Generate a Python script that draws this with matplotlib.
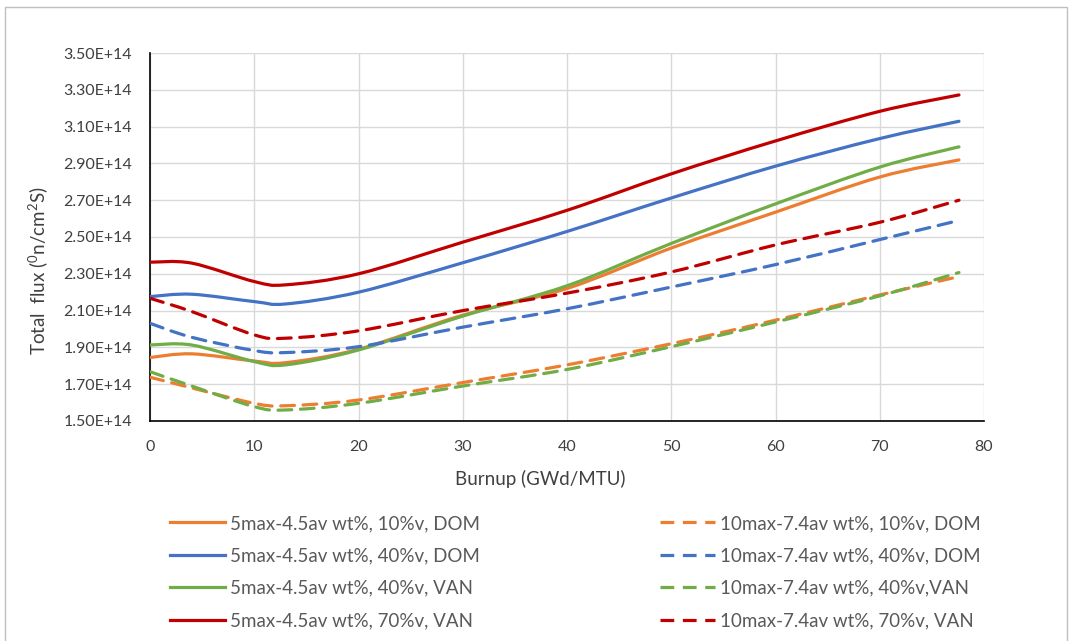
import numpy as np
import matplotlib.pyplot as plt
from matplotlib.path import Path
from matplotlib.patches import PathPatch, Rectangle
from matplotlib.lines import Line2D
from matplotlib.ticker import FuncFormatter

plt.rcParams['font.family'] = ['Lato', 'DejaVu Sans']
plt.rcParams['mathtext.default'] = 'regular'

# burnup steps (GWd/MTU)
burnup = [0, 4, 10, 13, 20, 30, 40, 50, 60, 70, 77.6]

# total flux, in units of 1E+14 n/cm2s
low_10_dom = [1.845, 1.865, 1.826, 1.817, 1.890, 2.075, 2.220, 2.440, 2.635, 2.826, 2.919]
low_40_dom = [2.176, 2.189, 2.149, 2.136, 2.200, 2.360, 2.530, 2.712, 2.885, 3.035, 3.129]
low_40_van = [1.913, 1.913, 1.823, 1.805, 1.886, 2.070, 2.235, 2.465, 2.680, 2.880, 2.990]
low_70_van = [2.363, 2.358, 2.258, 2.240, 2.300, 2.472, 2.645, 2.843, 3.022, 3.183, 3.272]
high_10_dom = [1.738, 1.680, 1.596, 1.583, 1.614, 1.709, 1.805, 1.920, 2.048, 2.185, 2.285]
high_40_dom = [2.031, 1.955, 1.883, 1.872, 1.904, 2.010, 2.110, 2.228, 2.350, 2.486, 2.590]
high_40_van = [1.768, 1.690, 1.578, 1.560, 1.596, 1.690, 1.780, 1.904, 2.038, 2.180, 2.307]
high_70_van = [2.167, 2.095, 1.968, 1.950, 1.990, 2.100, 2.195, 2.310, 2.457, 2.580, 2.700]

y_ticks = [1.5, 1.7, 1.9, 2.1, 2.3, 2.5, 2.7, 2.9, 3.1, 3.3, 3.5]
x_ticks = [0, 10, 20, 30, 40, 50, 60, 70, 80]

labels_low = ['5max-4.5av wt%, 10%v, DOM', '5max-4.5av wt%, 40%v, DOM',
              '5max-4.5av wt%, 40%v, VAN', '5max-4.5av wt%, 70%v, VAN']
labels_high = ['10max-7.4av wt%, 10%v, DOM', '10max-7.4av wt%, 40%v, DOM',
               '10max-7.4av wt%, 40%v,VAN', '10max-7.4av wt%, 70%v, VAN']
colors = ['#ED7D31', '#4472C4', '#70AD47', '#C00000']

LW = 2.3
DASH = (0, (4.3, 2.7))
W, H = 1074, 641


def smooth_path(x, y):
    # excel-like smoothed line: cubic bezier segments through the data points
    p = np.column_stack([x, y]).astype(float)
    n = len(p)
    verts = [p[0]]
    codes = [Path.MOVETO]
    for i in range(n - 1):
        p0 = p[max(i - 1, 0)]
        p1 = p[i]
        p2 = p[i + 1]
        p3 = p[min(i + 2, n - 1)]
        c1 = p1 + (p2 - p0) / 6.0
        c2 = p2 - (p3 - p1) / 6.0
        verts += [c1, c2, p2]
        codes += [Path.CURVE4] * 3
    return Path(verts, codes)


fig = plt.figure(figsize=(W / 100, H / 100), dpi=100)
ax = fig.add_axes([150 / W, 1 - 421 / H, 834 / W, 368 / H])

low = [low_10_dom, low_40_dom, low_40_van, low_70_van]
high = [high_10_dom, high_40_dom, high_40_van, high_70_van]
for vals, c in zip(low, colors):
    y = np.array(vals) * 1e14
    ax.add_patch(PathPatch(smooth_path(burnup, y), fill=False, edgecolor=c,
                           lw=LW, capstyle='round', zorder=3))
for vals, c in zip(high, colors):
    y = np.array(vals) * 1e14
    ax.add_patch(PathPatch(smooth_path(burnup, y), fill=False, edgecolor=c,
                           lw=LW, linestyle=DASH, capstyle='round', zorder=3))

ax.set_xlim(0, 80)
ax.set_ylim(1.5e14, 3.5e14)
ax.set_xticks(x_ticks)
ax.set_yticks([v * 1e14 for v in y_ticks])
ax.yaxis.set_major_formatter(FuncFormatter(lambda v, pos: f'{v / 1e14:.2f}E+14'))
ax.grid(True, color='#D9D9D9', lw=1.0, zorder=0)
ax.set_axisbelow(True)
for s in ['top', 'right']:
    ax.spines[s].set_visible(False)
for s in ['left', 'bottom']:
    ax.spines[s].set_color('#000000')
    ax.spines[s].set_linewidth(1.2)
ax.tick_params(length=0, labelsize=11.5, labelcolor='#404040')
ax.tick_params(axis='x', pad=13.5)
ax.tick_params(axis='y', pad=13)

ax.set_xlabel('Burnup (GWd/MTU)', fontsize=13.5, color='#404040')
ax.set_ylabel('Total  flux ($^0$n/cm$^2$S)', fontsize=13.5, color='#404040')
ax.xaxis.set_label_coords((540 - 150) / 834, (421 - 470) / 368)
ax.yaxis.set_label_coords((50 - 150) / 834, (421 - 271) / 368)

# legend, two columns
h_low = [Line2D([], [], color=c, lw=LW) for c in colors]
h_high = [Line2D([], [], color=c, lw=LW, linestyle=DASH) for c in colors]
common = dict(loc='upper left', frameon=False, fontsize=13.5, labelcolor='#595959',
              handlelength=2.95, handletextpad=0.27, labelspacing=0.82,
              borderpad=0, borderaxespad=0)
fig.legend(h_low, labels_low, bbox_to_anchor=(170 / W, 1 - 515 / H), **common)
fig.legend(h_high, labels_high, bbox_to_anchor=(660 / W, 1 - 515 / H), **common)

# chart border
fig.add_artist(Rectangle((5 / W, -0.02), 1062 / W, 1.02 - 7 / H,
                         transform=fig.transFigure, fill=False,
                         edgecolor='#BFBFBF', lw=1.0))

fig.savefig('out.png', dpi=100)
